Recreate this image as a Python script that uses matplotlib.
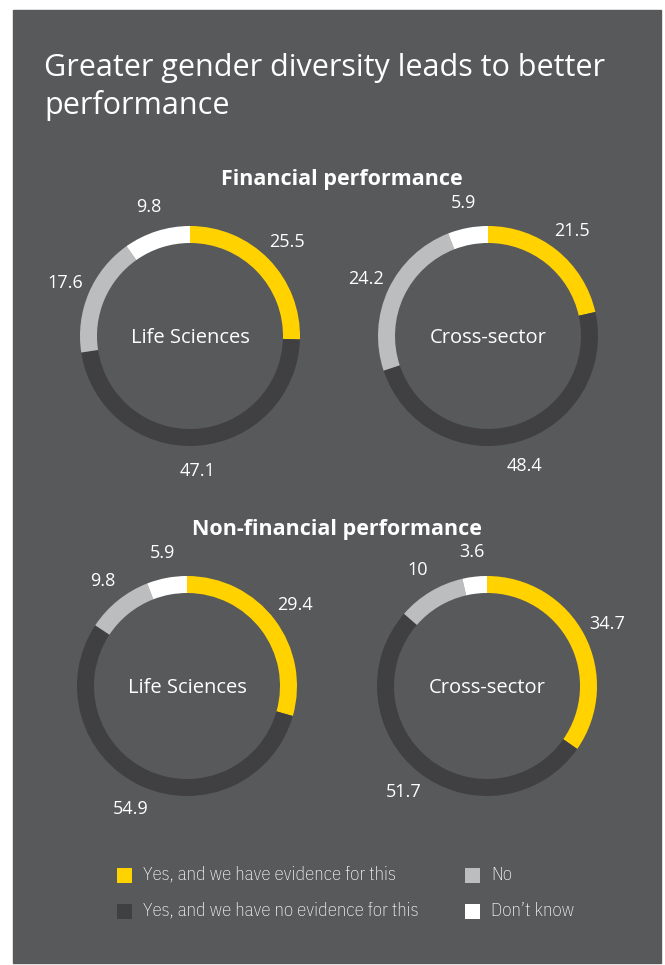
import matplotlib
matplotlib.use("Agg")
import matplotlib.pyplot as plt
import numpy as np
from matplotlib.patches import Rectangle

# data
categories = ["Yes, and we have evidence for this", "Yes, and we have no evidence for this",
              "No", "Don\u2019t know"]
fin_life = [25.5, 47.1, 17.6, 9.8]
fin_cross = [21.5, 48.4, 24.2, 5.9]
nonfin_life = [29.4, 54.9, 9.8, 5.9]
nonfin_cross = [34.7, 51.7, 10, 3.6]
sector_names = ["Life Sciences", "Cross-sector"]
section_titles = ["Financial performance", "Non-financial performance"]
title = "Greater gender diversity leads to better\nperformance"

colors = ["#FFD200", "#404042", "#BCBDBF", "#FFFFFF"]
bg = "#58595B"

W, H = 665, 965
fig = plt.figure(figsize=(W / 100, H / 100), dpi=100)
fig.patch.set_facecolor("white")
ax = fig.add_axes([0, 0, 1, 1])

main_font = ["Open Sans", "DejaVu Sans"]
narrow = ["IBM Plex Sans Condensed", "Liberation Sans Narrow", "DejaVu Sans"]

def fy(y):
    # top-based pixel -> data y
    return H - y

# dark panel
ax.add_patch(Rectangle((13, fy(963)), 648, 953, color=bg, zorder=0))

ax.text(44, fy(53), title, fontsize=22, color="white", family=main_font,
        va="top", ha="left", linespacing=1.28)

ax.text(342, fy(180), section_titles[0], fontsize=15.5, fontweight="bold",
        color="white", family=main_font, ha="center", va="center")
ax.text(337, fy(530), section_titles[1], fontsize=15.5, fontweight="bold",
        color="white", family=main_font, ha="center", va="center")

donuts = [
    (fin_life, sector_names[0], (190, 336)),
    (fin_cross, sector_names[1], (488, 336)),
    (nonfin_life, sector_names[0], (187, 686)),
    (nonfin_cross, sector_names[1], (487, 686)),
]

R = 110
for vals, name, (cx, cy) in donuts:
    wedges, _ = ax.pie(vals, colors=colors, startangle=90, counterclock=False,
                       radius=R, center=(cx, fy(cy)),
                       wedgeprops=dict(width=17, linewidth=0))
    for w, v in zip(wedges, vals):
        ang = np.deg2rad((w.theta1 + w.theta2) / 2)
        lx = cx + 135 * np.cos(ang)
        ly = fy(cy) + 135 * np.sin(ang)
        ax.text(lx, ly, f"{v:g}", fontsize=13, color="white", family=main_font,
                ha="center", va="center")
    ax.text(cx, fy(cy + 2), name, fontsize=14.5, color="white", family=main_font,
            ha="center", va="center")

# legend
leg_pos = [(117, 875), (117, 911), (465, 875), (465, 911)]
for (x, y), c, lab in zip(leg_pos, colors, categories):
    ax.add_patch(Rectangle((x, fy(y) - 7.5), 15, 15, color=c, linewidth=0))
    ax.text(x + 26, fy(y), lab, fontsize=13.5, color="white", family=narrow,
            fontweight="light", ha="left", va="center")

ax.set_xlim(0, W)
ax.set_ylim(0, H)
ax.set_aspect("auto")
ax.axis("off")

fig.savefig("out.png", dpi=100, facecolor="white")
